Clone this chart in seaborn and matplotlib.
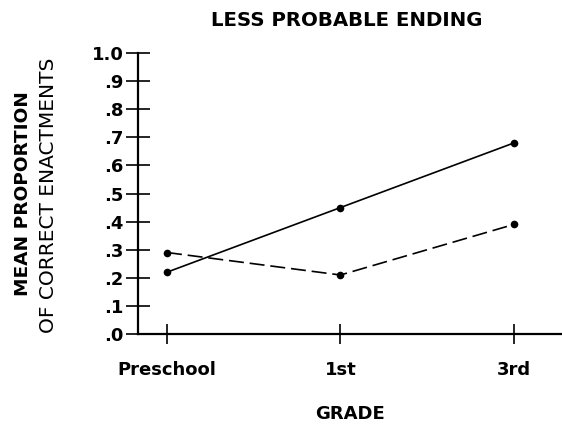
import pandas as pd
import matplotlib
matplotlib.use("Agg")
import matplotlib.pyplot as plt
import seaborn as sns

# Values
grades = ["Preschool", "1st", "3rd"]
solid_vals = [0.22, 0.45, 0.68]
dashed_vals = [0.29, 0.21, 0.39]
y_ticks = [0.0, 0.1, 0.2, 0.3, 0.4, 0.5, 0.6, 0.7, 0.8, 0.9, 1.0]
y_labels = [".0", ".1", ".2", ".3", ".4", ".5", ".6", ".7", ".8", ".9", "1.0"]

df = pd.DataFrame({
    "grade": grades * 2,
    "value": solid_vals + dashed_vals,
    "series": ["solid"] * 3 + ["dashed"] * 3,
})

sns.set_style("white")
plt.rcParams["font.family"] = ["DejaVu Sans"]
plt.rcParams["text.color"] = "black"
plt.rcParams["axes.labelcolor"] = "black"

fig = plt.figure(figsize=(5.62, 4.25), dpi=100)
ax = fig.add_axes([0.2456, 0.2141, 0.7544, 0.6612])

sns.lineplot(data=df, x="grade", y="value", style="series",
             style_order=["solid", "dashed"],
             dashes={"solid": "", "dashed": (9, 3.5)},
             markers={"solid": "o", "dashed": "o"},
             color="black", linewidth=1.2, markersize=5.5,
             markeredgewidth=0, legend=False, sort=False, ax=ax)

ax.set_xlim(-0.167, 2.277)
ax.set_ylim(0, 1.0)
ax.set_yticks(y_ticks)
ax.set_yticklabels(y_labels)
ax.set_xticks(range(len(grades)))
ax.set_xticklabels(grades)

for side in ["top", "right"]:
    ax.spines[side].set_visible(False)
for side in ["left", "bottom"]:
    ax.spines[side].set_linewidth(1.6)
    ax.spines[side].set_color("black")

ax.tick_params(axis="both", direction="inout", width=1.2,
               colors="black", labelsize=13, bottom=True, left=True)
ax.tick_params(axis="y", length=17, pad=2)
ax.tick_params(axis="x", length=15, pad=12)
for lbl in ax.get_xticklabels() + ax.get_yticklabels():
    lbl.set_fontweight("bold")

ax.set_xlabel("GRADE", fontsize=13, fontweight="bold", color="black",
              labelpad=19)
ax.set_ylabel("")

fig.text(0.617, 0.952, "LESS PROBABLE ENDING", ha="center", va="center",
         fontsize=14.2, fontweight="bold")
fig.text(0.041, 0.544, "MEAN PROPORTION", rotation=90, ha="center",
         va="center", fontsize=13.3, fontweight="bold")
fig.text(0.086, 0.540, "OF CORRECT ENACTMENTS", rotation=90, ha="center",
         va="center", fontsize=14.5)

fig.savefig("out.png", dpi=100, facecolor="white")
